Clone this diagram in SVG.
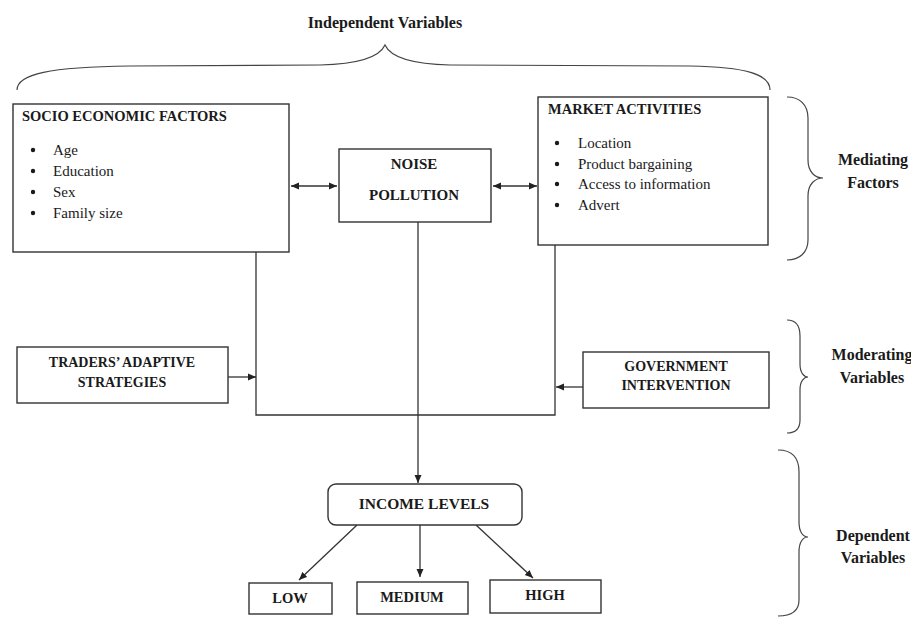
<svg xmlns="http://www.w3.org/2000/svg" width="911" height="620" viewBox="0 0 911 620">
<style>
.box{fill:#fff;stroke:#333;stroke-width:1.4}
.ln{fill:none;stroke:#333;stroke-width:1.3}
.br{fill:none;stroke:#444;stroke-width:1.2}
.t{font-family:"Liberation Serif","Times New Roman",serif;fill:#1a1a1a}
.b{font-weight:bold}
.h{font-size:14.5px;font-weight:bold}
.li{font-size:15px}
.c{text-anchor:middle}
.dot{fill:#1a1a1a}
</style>
<defs>
<marker id="ah" markerUnits="userSpaceOnUse" markerWidth="9" markerHeight="8" refX="8" refY="4" orient="auto-start-reverse">
<path d="M0,0.5 L8,4 L0,7.5 Z" fill="#222"/>
</marker>
</defs>
<rect width="911" height="620" fill="#fff"/>

<g id="braces">
<text class="t b c" x="385" y="28" font-size="16">Independent Variables</text>
<path class="br" d="M17,90 C17,74 50,67 130,66 L320,65 C362,64 380,56 385,45 C390,56 408,64 450,65 L690,66 C745,67 770,74 770,90"/>
<path class="br" d="M787,97 C800,97 808,105 808,118 L808,160 C808,172 815,178 823,178 C815,178 808,184 808,196 L808,240 C808,252 800,260 787,260"/>
<text class="t b c" x="873" y="165" font-size="16">Mediating</text>
<text class="t b c" x="873" y="188" font-size="16">Factors</text>
<path class="br" d="M787,320 C796,320 800,326 800,336 L800,364 C800,373 804,377 808,377 C804,377 800,381 800,390 L800,420 C800,428 796,433 787,433"/>
<text class="t b c" x="872" y="360" font-size="16">Moderating</text>
<text class="t b c" x="872" y="383" font-size="16">Variables</text>
<path class="br" d="M778,450 C792,450 799,458 799,472 L799,522 C799,532 803,537 808,537 C803,537 799,542 799,552 L799,600 C799,610 792,616 778,616"/>
<text class="t b c" x="873" y="541" font-size="16">Dependent</text>
<text class="t b c" x="873" y="563" font-size="16">Variables</text>
</g>

<g id="connectors">
<line class="ln" x1="291" y1="186" x2="337" y2="186" marker-start="url(#ah)" marker-end="url(#ah)"/>
<line class="ln" x1="493" y1="186" x2="537" y2="186" marker-start="url(#ah)" marker-end="url(#ah)"/>
<polyline class="ln" points="256,252 256,415 555,415 555,245"/>
<line class="ln" x1="418" y1="222" x2="418" y2="483" marker-end="url(#ah)"/>
<line class="ln" x1="228" y1="377" x2="256" y2="377" marker-end="url(#ah)"/>
<line class="ln" x1="583" y1="387" x2="556" y2="387" marker-end="url(#ah)"/>
<line class="ln" x1="357" y1="525" x2="299" y2="580" marker-end="url(#ah)"/>
<line class="ln" x1="420" y1="525" x2="420" y2="577" marker-end="url(#ah)"/>
<line class="ln" x1="476" y1="525" x2="533" y2="578" marker-end="url(#ah)"/>
</g>

<g id="socio">
<rect class="box" x="13" y="104" width="276" height="148"/>
<text class="t h" x="22" y="121">SOCIO ECONOMIC FACTORS</text>
<circle class="dot" cx="33" cy="150" r="2.2"/>
<circle class="dot" cx="33" cy="171" r="2.2"/>
<circle class="dot" cx="33" cy="192" r="2.2"/>
<circle class="dot" cx="33" cy="213" r="2.2"/>
<g class="t li">
<text x="53" y="155">Age</text>
<text x="53" y="176">Education</text>
<text x="53" y="197">Sex</text>
<text x="53" y="218">Family size</text>
</g>
</g>

<g id="noise">
<rect class="box" x="339" y="149" width="152" height="73"/>
<text class="t b c" x="414" y="169" font-size="15">NOISE</text>
<text class="t b c" x="414" y="200" font-size="15">POLLUTION</text>
</g>

<g id="market">
<rect class="box" x="538" y="97" width="230" height="148"/>
<text class="t h" x="548" y="114">MARKET ACTIVITIES</text>
<circle class="dot" cx="557" cy="143" r="2.2"/>
<circle class="dot" cx="557" cy="164" r="2.2"/>
<circle class="dot" cx="557" cy="184" r="2.2"/>
<circle class="dot" cx="557" cy="205" r="2.2"/>
<g class="t li">
<text x="578" y="148">Location</text>
<text x="578" y="169">Product bargaining</text>
<text x="578" y="189">Access to information</text>
<text x="578" y="210">Advert</text>
</g>
</g>

<g id="traders">
<rect class="box" x="17" y="347" width="211" height="56"/>
<text class="t b c" x="122" y="367" font-size="14">TRADERS’ ADAPTIVE</text>
<text class="t b c" x="122" y="387" font-size="14">STRATEGIES</text>
</g>

<g id="government">
<rect class="box" x="583" y="352" width="186" height="56"/>
<text class="t b c" x="676" y="371" font-size="14">GOVERNMENT</text>
<text class="t b c" x="676" y="390" font-size="14">INTERVENTION</text>
</g>

<g id="income">
<rect class="box" x="328" y="484" width="194" height="41" rx="8"/>
<text class="t b c" x="424" y="509" font-size="15.5">INCOME LEVELS</text>
</g>

<g id="low">
<rect class="box" x="249" y="583" width="83" height="31"/>
<text class="t b c" x="290" y="603" font-size="14.5">LOW</text>
</g>
<g id="medium">
<rect class="box" x="357" y="582" width="111" height="32"/>
<text class="t b c" x="412" y="602" font-size="14.5">MEDIUM</text>
</g>
<g id="high">
<rect class="box" x="490" y="580" width="111" height="33"/>
<text class="t b c" x="545" y="600" font-size="14.5">HIGH</text>
</g>
</svg>
